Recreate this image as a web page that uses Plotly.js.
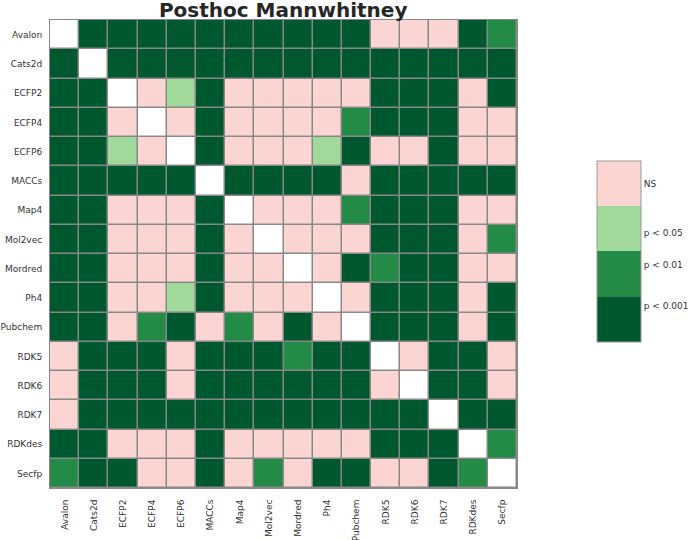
<!DOCTYPE html>
<html>
<head>
<meta charset="utf-8">
<script src="https://cdn.plot.ly/plotly-3.0.1.min.js"></script>
<style>html,body{margin:0;padding:0;background:#fff}</style>
</head>
<body>
<div id="chart" style="width:689px;height:540px"></div>
<script>
const methods = ["Avalon","Cats2d","ECFP2","ECFP4","ECFP6","MACCs","Map4","Mol2vec","Mordred","Ph4","Pubchem","RDK5","RDK6","RDK7","RDKdes","Secfp"];
const levelLabels = ["p < 0.001","p < 0.01","p < 0.05","NS"];
const levelColors = ["#00582f","#238b45","#a1d99b","#fad5d2"];
// codes: D = diagonal, N = NS, a = p<0.05, b = p<0.01, c = p<0.001
const rowAvalon  = ["D","c","c","c","c","c","c","c","c","c","c","N","N","N","c","b"];
const rowCats2d  = ["c","D","c","c","c","c","c","c","c","c","c","c","c","c","c","c"];
const rowECFP2   = ["c","c","D","N","a","c","N","N","N","N","N","c","c","c","N","c"];
const rowECFP4   = ["c","c","N","D","N","c","N","N","N","N","b","c","c","c","N","N"];
const rowECFP6   = ["c","c","a","N","D","c","N","N","N","a","c","N","N","c","N","N"];
const rowMACCs   = ["c","c","c","c","c","D","c","c","c","c","N","c","c","c","c","c"];
const rowMap4    = ["c","c","N","N","N","c","D","N","N","N","b","c","c","c","N","N"];
const rowMol2vec = ["c","c","N","N","N","c","N","D","N","N","N","c","c","c","N","b"];
const rowMordred = ["c","c","N","N","N","c","N","N","D","N","c","b","c","c","N","N"];
const rowPh4     = ["c","c","N","N","a","c","N","N","N","D","N","c","c","c","N","c"];
const rowPubchem = ["c","c","N","b","c","N","b","N","c","N","D","c","c","c","N","c"];
const rowRDK5    = ["N","c","c","c","N","c","c","c","b","c","c","D","N","c","c","N"];
const rowRDK6    = ["N","c","c","c","N","c","c","c","c","c","c","N","D","c","c","N"];
const rowRDK7    = ["N","c","c","c","c","c","c","c","c","c","c","c","c","D","c","c"];
const rowRDKdes  = ["c","c","N","N","N","c","N","N","N","N","N","c","c","c","D","b"];
const rowSecfp   = ["b","c","c","N","N","c","N","b","N","c","c","N","N","c","b","D"];
const matrix = [rowAvalon,rowCats2d,rowECFP2,rowECFP4,rowECFP6,rowMACCs,rowMap4,rowMol2vec,rowMordred,rowPh4,rowPubchem,rowRDK5,rowRDK6,rowRDK7,rowRDKdes,rowSecfp];

const codeOrder = ["c","b","a","N"];
const zMain = matrix.map(r => r.map(v => v === "D" ? null : codeOrder.indexOf(v) + 0.5));
const zDiag = matrix.map(r => r.map(v => v === "D" ? 1 : null));
const txt = matrix.map(r => r.map(v => v === "D" ? "" : levelLabels[codeOrder.indexOf(v)]));

const cs = [];
levelColors.forEach((c,i) => { cs.push([i/4, c]); cs.push([(i+1)/4, c]); });

const tickFont = {family: "DejaVu Sans", size: 9, color: "#333"};

const traces = [
  {
    type: "heatmap", x: methods, y: methods, z: zMain, text: txt,
    zmin: 0, zmax: 4, colorscale: cs, xgap: 1.5, ygap: 1.5,
    hovertemplate: "%{y} vs %{x}: %{text}<extra></extra>",
    colorbar: {
      x: 1.171, xanchor: "left", xpad: 0, y: 0.505, yanchor: "middle", ypad: 0,
      len: 181, lenmode: "pixels", thickness: 44, thicknessmode: "pixels",
      outlinecolor: "#999", outlinewidth: 1,
      tickmode: "array", tickvals: [3.5, 2.42, 1.71, 0.81], ticktext: ["NS","p < 0.05","p < 0.01","p < 0.001"],
      ticks: "", ticklen: 0,
      tickfont: tickFont
    }
  },
  {
    type: "heatmap", x: methods, y: methods, z: zDiag,
    zmin: 0, zmax: 1, colorscale: [[0,"#ffffff"],[1,"#ffffff"]], showscale: false,
    xgap: 1.5, ygap: 1.5, hoverinfo: "skip"
  }
];

const layout = {
  width: 689, height: 540,
  margin: {l: 50, r: 172, t: 20, b: 52, autoexpand: false},
  paper_bgcolor: "#ffffff", plot_bgcolor: "#888888",
  title: {text: "<b>Posthoc Mannwhitney</b>", font: {family: "DejaVu Sans", size: 20, color: "#262626"}, x: 0.411, xanchor: "center", yref: "container", y: 0.982, yanchor: "middle", pad: {t: 0, b: 0}},
  font: {family: "DejaVu Sans", color: "#333"},
  xaxis: {type: "category", tickangle: -90, ticks: "", ticklen: 0, ticklabelstandoff: 7, tickfont: tickFont, showgrid: false, zeroline: false, showline: true, linecolor: "#888", linewidth: 1, mirror: true, fixedrange: true, automargin: false},
  yaxis: {type: "category", autorange: "reversed", ticks: "", ticklen: 0, ticklabelstandoff: 5, tickfont: tickFont, showgrid: false, zeroline: false, showline: true, linecolor: "#888", linewidth: 1, mirror: true, fixedrange: true, automargin: false}
};

Plotly.newPlot("chart", traces, layout, {displayModeBar: false});
</script>
</body>
</html>
